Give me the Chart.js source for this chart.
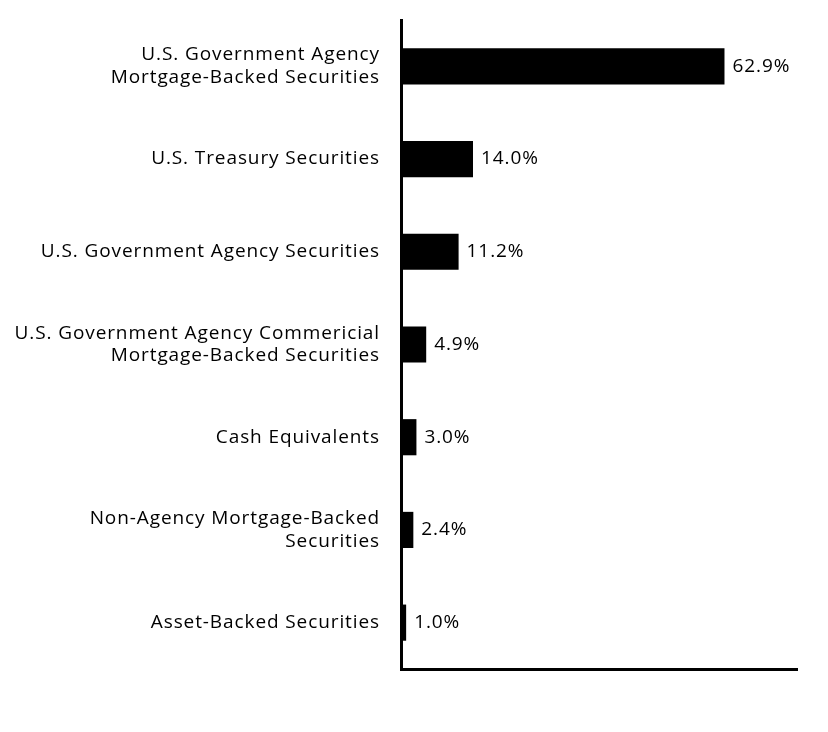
<!DOCTYPE html>
<html>
<head>
<meta charset="utf-8">
<script src="https://cdn.jsdelivr.net/npm/chart.js@4"></script>
<style>
    html, body { margin: 0; padding: 0; background: #fff; }
    #wrap { width: 828px; height: 732px; }
</style>
</head>
<body>
<div id="wrap"><canvas id="chart"></canvas></div>
<script>
const categories = [
    ['U.S. Government Agency', 'Mortgage-Backed Securities'],
    'U.S. Treasury Securities',
    'U.S. Government Agency Securities',
    ['U.S. Government Agency Commericial', 'Mortgage-Backed Securities'],
    'Cash Equivalents',
    ['Non-Agency Mortgage-Backed', 'Securities'],
    'Asset-Backed Securities'
];
const values = [62.9, 14.0, 11.2, 4.9, 3.0, 2.4, 1.0];
const axisMax = 77;

const FONT = '"Open Sans", "Noto Sans", sans-serif';
const SPACING = '0.9px';

// Police plus large : espacement des lettres sur tout le canvas
const spacingPlugin = {
    id: 'spacing',
    beforeLayout(chart) { chart.ctx.letterSpacing = SPACING; },
    beforeDraw(chart) { chart.ctx.letterSpacing = SPACING; }
};

// Valeur en % au bout de chaque barre
const valueLabelPlugin = {
    id: 'valueLabel',
    afterDatasetsDraw(chart) {
        const { ctx } = chart;
        const meta = chart.getDatasetMeta(0);
        ctx.save();
        ctx.font = `19px ${FONT}`;
        ctx.fillStyle = '#000';
        ctx.textAlign = 'left';
        ctx.textBaseline = 'middle';
        meta.data.forEach((bar, i) => {
            ctx.fillText(values[i].toFixed(1) + '%', bar.x + 8, bar.y);
        });
        ctx.restore();
    }
};

new Chart(document.getElementById('chart'), {
    type: 'bar',
    data: {
        labels: categories,
        datasets: [{
            data: values,
            backgroundColor: '#000',
            borderWidth: 0,
            barPercentage: 0.39,
            categoryPercentage: 1
        }]
    },
    plugins: [spacingPlugin, valueLabelPlugin],
    options: {
        indexAxis: 'y',
        responsive: true,
        maintainAspectRatio: false,
        animation: false,
        layout: { padding: { top: 20, right: 31, bottom: 63, left: 0 } },
        plugins: { legend: { display: false }, tooltip: { enabled: false } },
        scales: {
            x: {
                min: 0,
                max: axisMax,
                grid: { display: false, drawTicks: false },
                border: { display: true, color: '#000', width: 3 },
                ticks: { display: false }
            },
            y: {
                grid: { display: false, drawTicks: false },
                border: { display: true, color: '#000', width: 3 },
                afterFit: scale => {
                    scale.width = 401;
                    scale.paddingTop = 0;
                    scale.paddingBottom = 0;
                },
                ticks: {
                    color: '#000',
                    padding: 21,
                    font: { family: FONT, size: 19 }
                }
            }
        }
    }
});
</script>
</body>
</html>
